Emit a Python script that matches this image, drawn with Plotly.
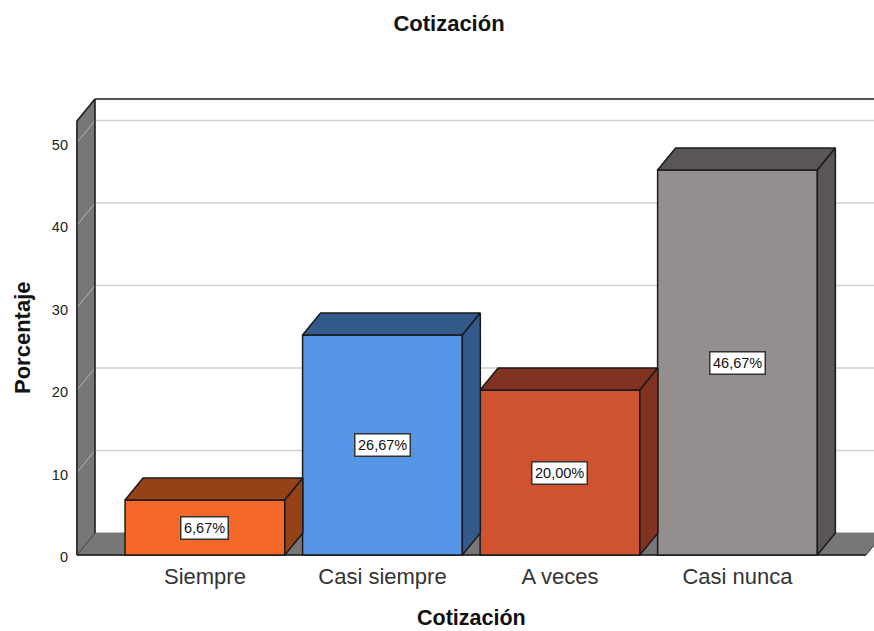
import plotly.graph_objects as go

# data
categories = ["Siempre", "Casi siempre", "A veces", "Casi nunca"]
porcentaje = [6.67, 26.67, 20.00, 46.67]
etiquetas = ["6,67%", "26,67%", "20,00%", "46,67%"]
y_ticks = [0, 10, 20, 30, 40, 50]

front_colors = ["#F4682A", "#5596E6", "#D05330", "#948F8E"]
side_colors = ["#954219", "#335A8A", "#7F3320", "#595655"]

FONT = "Liberation Sans"
WALL = "#777777"
GRID = "#CFCFCF"
EDGE = "#1A1A1A"

# fake 3d depth, in axis units
DX = 0.1014
DY = 2.667
BAR_W = 0.9
X_MIN = -0.721
X_END = 3.724
Y_TOP = 52.6

W, H = 874, 631
PLOT_L, PLOT_T, PLOT_W, PLOT_H = 75, 95, 799, 462

fig = go.Figure()

shapes = []


def poly(xs, ys, fill, line=None, width=1):
    path = "M " + " L ".join(f"{x},{y}" for x, y in zip(xs, ys)) + " Z"
    shapes.append(dict(type="path", path=path, xref="x", yref="y", layer="below",
                       fillcolor=fill, line=dict(color=line or fill, width=width)))


def seg(x0, y0, x1, y1, color, width):
    shapes.append(dict(type="line", x0=x0, y0=y0, x1=x1, y1=y1, xref="x", yref="y",
                       layer="below", line=dict(color=color, width=width)))


# left wall and floor
poly([X_MIN, X_MIN + DX, X_MIN + DX, X_MIN],
     [0, DY, Y_TOP + DY, Y_TOP], WALL)
poly([X_MIN, X_END, X_END + DX, X_MIN + DX],
     [0, 0, DY, DY], WALL)

# gridlines: back wall plus the slant over the left wall
for t in y_ticks[1:]:
    seg(X_MIN + DX, t + DY, 3.8, t + DY, GRID, 1.6)
    seg(X_MIN, t, X_MIN + DX, t + DY, "#B5B5B5", 1)

# outlines
seg(X_MIN, 0, X_MIN, Y_TOP, EDGE, 1.5)
seg(X_MIN + DX, DY, X_MIN + DX, Y_TOP + DY, EDGE, 1.5)
seg(X_MIN, Y_TOP, X_MIN + DX, Y_TOP + DY, EDGE, 1.5)
seg(X_MIN + DX, Y_TOP + DY, 3.8, Y_TOP + DY, EDGE, 1.5)
seg(X_MIN, 0, X_MIN + DX, DY, "#444444", 1)
seg(X_MIN, 0, X_END, 0, EDGE, 1.5)
seg(X_END, 0, X_END + DX, DY, "#444444", 1)

# front faces
fig.add_trace(go.Bar(
    x=list(range(len(categories))), y=porcentaje, width=BAR_W,
    marker=dict(color=front_colors, line=dict(color=EDGE, width=1.5)),
    hoverinfo="skip", showlegend=False,
))

# top and side faces
for i, v in enumerate(porcentaje):
    left = i - BAR_W / 2
    right = i + BAR_W / 2
    fig.add_trace(go.Scatter(
        x=[left, right, right + DX, left + DX, left],
        y=[v, v, v + DY, v + DY, v],
        mode="lines", fill="toself", fillcolor=side_colors[i],
        line=dict(color=EDGE, width=1.5), hoverinfo="skip", showlegend=False,
    ))
    fig.add_trace(go.Scatter(
        x=[right, right + DX, right + DX, right, right],
        y=[0, DY, v + DY, v, 0],
        mode="lines", fill="toself", fillcolor=side_colors[i],
        line=dict(color=EDGE, width=1.5), hoverinfo="skip", showlegend=False,
    ))

annotations = []
for i, v in enumerate(porcentaje):
    annotations.append(dict(
        x=i, y=v / 2, xref="x", yref="y", text=etiquetas[i], showarrow=False,
        font=dict(family=FONT, size=14.5, color="#111111"),
        bgcolor="white", bordercolor="#333333", borderwidth=1.5, borderpad=2.5,
    ))

# axis titles sit off-centre in the original
annotations.append(dict(
    x=(471 - PLOT_L) / PLOT_W, y=(PLOT_T + PLOT_H - 618) / PLOT_H,
    xref="paper", yref="paper", xanchor="center", yanchor="middle",
    text="<b>Cotización</b>", showarrow=False,
    font=dict(family=FONT, size=21.5, color="#111111"),
))
annotations.append(dict(
    x=(22 - PLOT_L) / PLOT_W, y=(PLOT_T + PLOT_H - 337) / PLOT_H,
    xref="paper", yref="paper", xanchor="center", yanchor="middle",
    text="<b>Porcentaje</b>", showarrow=False, textangle=-90,
    font=dict(family=FONT, size=22, color="#111111"),
))

fig.update_layout(
    width=W, height=H,
    margin=dict(l=PLOT_L, r=W - PLOT_L - PLOT_W, t=PLOT_T, b=H - PLOT_T - PLOT_H),
    paper_bgcolor="white", plot_bgcolor="white",
    title=dict(text="<b>Cotización</b>", x=449 / W, xanchor="center",
               y=1 - 23 / H, yanchor="middle",
               font=dict(family=FONT, size=22, color="#111111")),
    shapes=shapes, annotations=annotations,
    xaxis=dict(range=[-0.732, 3.769], tickvals=list(range(len(categories))),
               ticktext=categories, showgrid=False, zeroline=False, showline=False,
               ticks="", ticklabelstandoff=4,
               tickfont=dict(family=FONT, size=22, color="#333333")),
    yaxis=dict(range=[-0.24, 55.76], tickvals=y_ticks, showgrid=False, zeroline=False,
               showline=False, ticks="", ticklabelstandoff=6, ticklabelshift=2,
               tickfont=dict(family=FONT, size=14.5, color="#222222")),
)

# drop the page's default body margin so the figure fills the window
fig.write_html("out.html", config=dict(displayModeBar=False),
               post_script="document.body.style.margin = '0';")
